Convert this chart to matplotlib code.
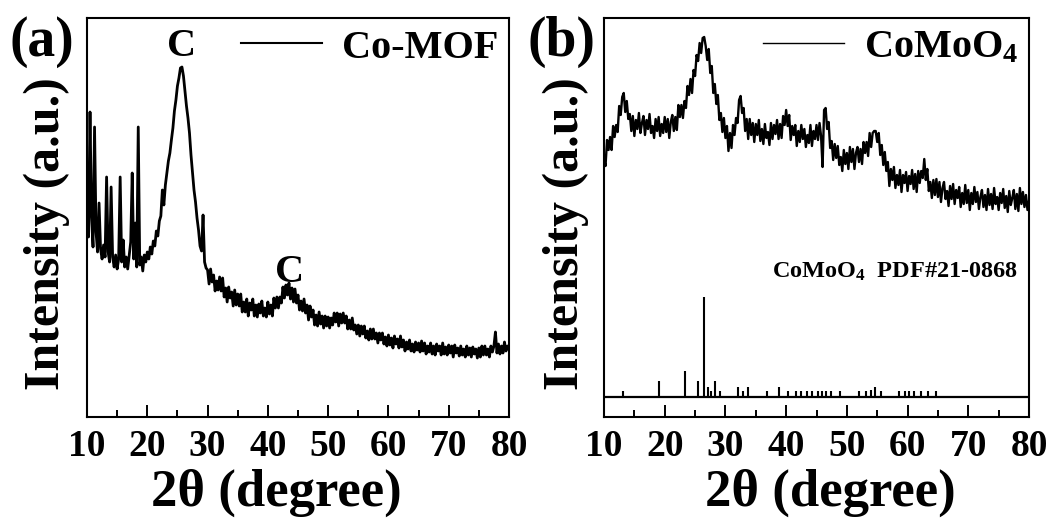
import numpy as np
import matplotlib.pyplot as plt
from matplotlib.ticker import MultipleLocator

plt.rcParams['font.family'] = 'Liberation Serif'
plt.rcParams['font.weight'] = 'bold'
plt.rcParams['axes.labelweight'] = 'bold'
plt.rcParams['mathtext.fontset'] = 'custom'
plt.rcParams['mathtext.rm'] = 'Liberation Serif:bold'
plt.rcParams['mathtext.bf'] = 'Liberation Serif:bold'
plt.rcParams['mathtext.default'] = 'bf'

# 2theta grid of both scans (0.25 deg step, 10-80 deg)
two_theta = np.arange(10, 80.001, 0.25)

# Co-MOF scan, arbitrary intensity
co_mof = [
    230, 180, 305, 200, 170, 290, 185, 165, 214, 168, 158, 172, 160, 240, 165, 155, 230, 160, 150, 162,
    148, 158, 240, 155, 177, 150, 160, 148, 162, 175, 244, 158, 194, 150, 290, 152, 160, 146, 162, 155,
    165, 158, 170, 163, 176, 171, 186, 181, 196, 201, 227, 212, 232, 244, 256, 264, 277, 289, 306, 317,
    331, 339, 349, 350, 341, 326, 311, 299, 284, 262, 245, 227, 215, 199, 187, 171, 166, 202, 155, 149,
    147, 133, 148, 135, 142, 126, 136, 127, 140, 126, 139, 120, 129, 115, 130, 119, 125, 111, 127, 112,
    123, 111, 123, 105, 115, 105, 118, 101, 114, 107, 118, 101, 112, 100, 113, 104, 116, 101, 109, 100,
    115, 103, 112, 101, 119, 109, 120, 109, 120, 114, 130, 119, 132, 122, 134, 118, 129, 115, 128, 114,
    122, 107, 116, 106, 118, 104, 112, 97, 111, 100, 107, 92, 102, 91, 105, 93, 101, 89, 101, 91,
    100, 89, 99, 92, 104, 95, 104, 91, 103, 94, 104, 94, 101, 88, 97, 88, 99, 87, 92, 83,
    92, 81, 91, 83, 91, 79, 86, 77, 88, 78, 88, 78, 84, 74, 84, 77, 84, 73, 80, 71,
    82, 72, 79, 69, 81, 73, 78, 69, 81, 70, 77, 66, 75, 68, 77, 66, 73, 65, 75, 67,
    74, 65, 76, 66, 74, 63, 71, 65, 74, 63, 71, 62, 73, 66, 71, 62, 74, 63, 70, 62,
    72, 64, 71, 60, 72, 64, 69, 61, 71, 62, 68, 60, 71, 62, 69, 60, 70, 63, 68, 59,
    69, 60, 71, 62, 71, 62, 68, 60, 71, 65, 71, 85, 64, 73, 63, 71, 64, 75, 66, 71,
    70,
]

# CoMoO4 scan, arbitrary intensity
comoo4 = [
    258, 251, 277, 267, 280, 267, 291, 280, 292, 285, 311, 302, 320, 324, 305, 316, 298, 303, 286, 301,
    281, 297, 288, 304, 284, 294, 301, 282, 297, 288, 303, 284, 291, 279, 298, 286, 300, 281, 293, 284,
    300, 285, 298, 279, 295, 302, 286, 300, 287, 312, 300, 312, 299, 316, 309, 331, 322, 338, 324, 347,
    341, 362, 356, 374, 364, 379, 380, 371, 357, 368, 344, 351, 324, 333, 313, 322, 297, 304, 285, 299,
    279, 291, 266, 284, 269, 292, 282, 299, 294, 317, 321, 304, 309, 286, 298, 278, 298, 282, 294, 275,
    293, 282, 297, 276, 288, 273, 293, 279, 285, 272, 294, 278, 292, 283, 297, 278, 293, 279, 301, 292,
    307, 291, 302, 277, 291, 282, 292, 271, 286, 275, 292, 278, 288, 270, 282, 274, 292, 271, 286, 278,
    292, 277, 294, 281, 250, 307, 309, 288, 295, 269, 276, 257, 273, 259, 271, 252, 260, 246, 267, 253,
    264, 248, 270, 255, 268, 248, 264, 270, 255, 268, 253, 275, 264, 275, 261, 284, 270, 284, 286, 286,
    275, 284, 262, 272, 252, 265, 246, 255, 231, 248, 237, 250, 229, 242, 232, 247, 225, 242, 234, 245,
    226, 241, 233, 247, 228, 243, 225, 246, 234, 246, 239, 258, 237, 248, 226, 235, 219, 237, 222, 238,
    220, 235, 215, 229, 235, 218, 226, 211, 231, 218, 233, 213, 227, 219, 230, 210, 224, 213, 232, 214,
    227, 207, 224, 213, 230, 215, 225, 208, 220, 227, 210, 222, 207, 228, 212, 223, 208, 229, 213, 220,
    207, 224, 214, 228, 209, 221, 205, 226, 212, 219, 227, 208, 223, 206, 229, 213, 225, 210, 222, 207,
    216,
]

# PDF#21-0868 reference lines: position and relative height
pdf_pos = [13.1, 19.0, 23.3, 25.5, 26.5, 27.2, 27.6, 28.3, 29.1, 32.1, 32.9, 33.7,
           36.8, 38.8, 40.3, 41.6, 42.5, 43.4, 44.3, 45.2, 45.9, 46.6, 47.4, 48.8,
           52.0, 53.1, 53.9, 54.6, 55.6, 58.6, 59.6, 60.3, 61.1, 62.2, 63.3, 64.6]
pdf_int = [6, 16, 26, 16, 100, 10, 6, 16, 6, 10, 6, 10,
           6, 10, 6, 6, 6, 6, 6, 6, 6, 6, 6, 6,
           6, 6, 7, 10, 6, 6, 6, 6, 6, 6, 6, 6]
pdf_base = 20

fig = plt.figure(figsize=(10.54, 5.19), dpi=100)
ax1 = fig.add_axes([87/1054, 102/519, 422/1054, 399/519])
ax2 = fig.add_axes([604/1054, 102/519, 425/1054, 399/519])

ax1.plot(two_theta, co_mof, color='black', lw=2.0, label='Co-MOF')
ax2.plot(two_theta, comoo4, color='black', lw=1.7, label='CoMoO$_4$')
ax2.axhline(pdf_base, color='black', lw=1.6)
ax2.vlines(pdf_pos, pdf_base, pdf_base + np.array(pdf_int), color='black', lw=1.5)

ax1.text(25.7, 370, 'C', fontsize=29, ha='center', va='center')
ax1.text(43.6, 145, 'C', fontsize=29, ha='center', va='center')
ax2.text(0.975, 0.363, 'CoMoO$_4$  PDF#21-0868', transform=ax2.transAxes,
         fontsize=17.5, ha='right', va='center')

legend_lw = {ax1: 1.5, ax2: 1.0}
for ax in (ax1, ax2):
    ax.set_xlim(10, 80)
    ax.set_ylim(0, 399)
    ax.set_yticks([])
    ax.xaxis.set_major_locator(MultipleLocator(10))
    ax.xaxis.set_minor_locator(MultipleLocator(5))
    ax.tick_params(axis='x', which='both', direction='in', width=1.4, labelsize=27, pad=9)
    ax.tick_params(axis='x', which='major', length=9)
    ax.tick_params(axis='x', which='minor', length=5)
    for sp in ax.spines.values():
        sp.set_linewidth(1.5)
    ax.set_xlabel('2θ (degree)', fontsize=38, labelpad=3)
    ax.set_ylabel('Intensity (a.u.)', fontsize=36)
    ax.yaxis.set_label_coords(-0.04, 0.46)
    leg = ax.legend(loc='center right', bbox_to_anchor=(0.975, 0.925), frameon=False,
                    fontsize=29, handlelength=2.0, handletextpad=0.5,
                    borderpad=0, borderaxespad=0)
    leg.get_lines()[0].set_linewidth(legend_lw[ax])

ax1.xaxis.label.set_x(0.448)
ax2.xaxis.label.set_x(0.532)
ax2.yaxis.set_label_coords(-0.035, 0.46)

fig.text(42/1054, 1 - 42/519, '(a)', fontsize=40, ha='center', va='center')
fig.text(562/1054, 1 - 42/519, '(b)', fontsize=40, ha='center', va='center')

fig.savefig('out.png', dpi=100)
